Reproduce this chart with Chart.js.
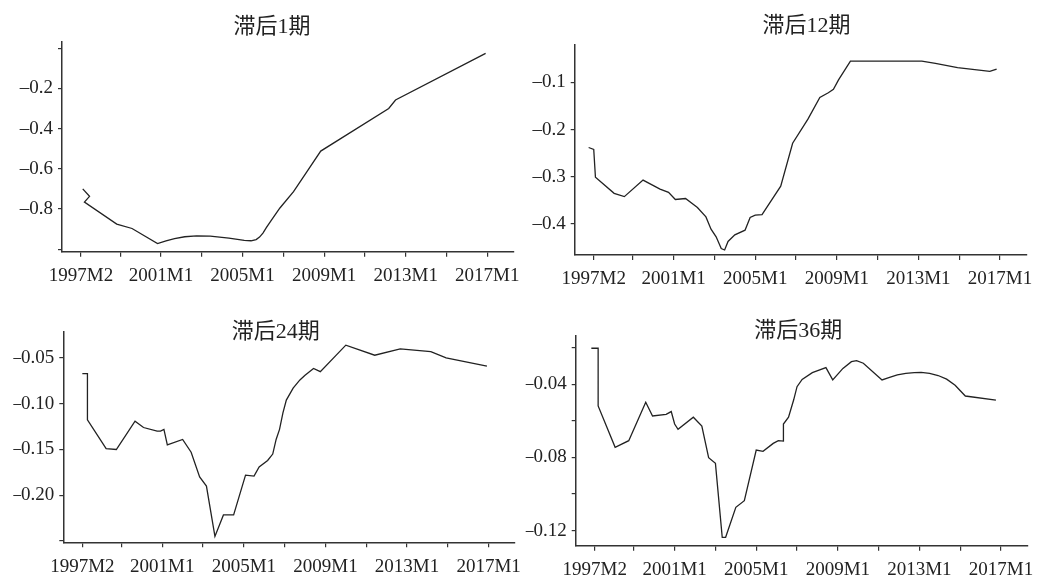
<!DOCTYPE html>
<html>
<head>
<meta charset="utf-8">
<script src="https://cdn.jsdelivr.net/npm/chart.js@4/dist/chart.umd.min.js"></script>
<style>
  html, body { margin: 0; padding: 0; background: #fff; }
  #wrap { position: relative; width: 1044px; height: 578px; overflow: hidden; background: #fff; }
  #wrap canvas { position: absolute; left: 0; top: 0; }
</style>
</head>
<body>
<div id="wrap">
  <canvas id="lag1" width="1044" height="578"></canvas>
  <canvas id="lag12" width="1044" height="578"></canvas>
  <canvas id="lag24" width="1044" height="578"></canvas>
  <canvas id="lag36" width="1044" height="578"></canvas>
</div>
<script>
// ---- tick labels (monthly dates, EViews style) ----
const xTickLabels = ['1997M2', '2001M1', '2005M1', '2009M1', '2013M1', '2017M1'];
const xMinorTicks = ['1999M1', '2003M1', '2007M1', '2011M1', '2015M1'];

// ---- panel titles ----
const panelTitles = ['滞后1期', '滞后12期', '滞后24期', '滞后36期'];

// ---- lag 1 ----
const lag1Dates = ['1997M3','1997M7','1997M4','1998M11','1999M8','2000M11','2001M4','2001M9','2002M3','2002M10',
  '2003M6','2004M5','2005M2','2005M6','2005M9','2005M11','2006M1','2006M3','2006M6','2006M11',
  '2007M7','2008M3','2008M11','2012M3','2012M7','2016M12'];
const lag1Values = [-0.700,-0.737,-0.766,-0.875,-0.897,-0.972,-0.958,-0.947,-0.938,-0.934,
  -0.935,-0.945,-0.956,-0.958,-0.952,-0.940,-0.920,-0.893,-0.855,-0.795,
  -0.714,-0.613,-0.512,-0.300,-0.258,-0.026];
const lag1YTicks = [0, -0.2, -0.4, -0.6, -0.8, -1.0];
const lag1YLabeled = [-0.2, -0.4, -0.6, -0.8];

// ---- lag 12 ----
const lag12Dates = ['1996M11','1997M2','1997M3','1998M2','1998M8','1999M7','2000M5','2000M10','2001M2','2001M8',
  '2002M3','2002M8','2002M11','2003M2','2003M5','2003M7','2003M9','2004M1','2004M7','2004M10',
  '2005M1','2005M5','2006M4','2006M11','2007M8','2008M3','2008M8','2008M11','2009M2','2009M9',
  '2013M3','2013M11','2014M12','2016M7','2016M11'];
const lag12Values = [-0.238,-0.242,-0.301,-0.335,-0.342,-0.307,-0.326,-0.333,-0.348,-0.346,
  -0.365,-0.385,-0.411,-0.427,-0.452,-0.455,-0.437,-0.423,-0.413,-0.386,
  -0.381,-0.380,-0.320,-0.229,-0.178,-0.132,-0.122,-0.115,-0.095,-0.055,
  -0.055,-0.060,-0.069,-0.077,-0.072];
const lag12YTicks = [-0.1, -0.2, -0.3, -0.4];
const lag12YLabeled = [-0.1, -0.2, -0.3, -0.4];

// ---- lag 24 ----
const lag24Dates = ['1997M2','1997M5','1997M5','1998M4','1998M10','1999M9','2000M2','2000M10','2000M12','2001M2',
  '2001M4','2002M1','2002M6','2002M11','2003M3','2003M8','2004M1','2004M7','2005M2','2005M7',
  '2005M10','2006M3','2006M6','2006M8','2006M10','2006M12','2007M2','2007M6','2007M10','2008M1',
  '2008M6','2008M10','2010M1','2011M6','2012M9','2014M3','2014M12','2016M12'];
const lag24Values = [-0.067,-0.067,-0.1175,-0.149,-0.150,-0.119,-0.126,-0.130,-0.130,-0.128,
  -0.145,-0.139,-0.153,-0.180,-0.190,-0.245,-0.2215,-0.2215,-0.178,-0.179,
  -0.169,-0.162,-0.155,-0.139,-0.128,-0.110,-0.096,-0.083,-0.074,-0.069,
  -0.0615,-0.065,-0.036,-0.047,-0.040,-0.043,-0.050,-0.059];
const lag24YTicks = [-0.05, -0.10, -0.15, -0.20, -0.25];
const lag24YLabeled = [-0.05, -0.10, -0.15, -0.20];

// ---- lag 36 ----
const lag36Dates = ['1996M12','1997M4','1997M4','1998M2','1998M10','1999M8','1999M12','2000M8','2000M11','2001M1',
  '2001M3','2001M12','2002M5','2002M9','2003M1','2003M5','2003M7','2004M1','2004M6','2005M1',
  '2005M5','2005M11','2006M2','2006M5','2006M5','2006M8','2006M11','2007M1','2007M4','2007M10',
  '2008M6','2008M10','2009M4','2009M9','2009M12','2010M4','2011M3','2011M7','2011M12','2012M5',
  '2012M10','2013M2','2013M7','2013M12','2014M5','2014M10','2015M4','2016M10'];
const lag36Values = [-0.0203,-0.0203,-0.0518,-0.0744,-0.0708,-0.0498,-0.0573,-0.0564,-0.0549,-0.0617,
  -0.0646,-0.0580,-0.0628,-0.0801,-0.0832,-0.1236,-0.1236,-0.1072,-0.1036,-0.0759,
  -0.0766,-0.0723,-0.0708,-0.0710,-0.0617,-0.0580,-0.0486,-0.0413,-0.0373,-0.0336,
  -0.0309,-0.0376,-0.0313,-0.0276,-0.0271,-0.0285,-0.0376,-0.0364,-0.0349,-0.0340,
  -0.0336,-0.0335,-0.0340,-0.0352,-0.0372,-0.0405,-0.0464,-0.0486];
const lag36YTicks = [-0.02, -0.04, -0.06, -0.08, -0.10, -0.12];
const lag36YLabeled = [-0.04, -0.08, -0.12];

// months counted from 1997M1 (so 1997M2 -> 1)
function monthIndex(s) {
  const parts = s.split('M');
  return (Number(parts[0]) - 1997) * 12 + (Number(parts[1]) - 1);
}

const INK = '#222222';
const AXIS = '#333333';
const SERIF = "'Liberation Serif', 'Times New Roman', serif";
const Y_AXIS_W = 50;
const X_AXIS_H = 30;
const X_MIN = -10.2;
const X_MAX = 255.4;

// draws the panel heading as canvas text
const panelTitlePlugin = {
  id: 'panelTitle',
  afterDraw(chart, args, opts) {
    const ctx = chart.ctx;
    ctx.save();
    ctx.font = opts.font;
    ctx.fillStyle = opts.color;
    ctx.textAlign = 'center';
    ctx.textBaseline = 'middle';
    ctx.fillText(opts.text, opts.x, opts.y);
    ctx.restore();
  }
};

const majorIdx = xTickLabels.map(monthIndex);
const minorIdx = xMinorTicks.map(monthIndex);
const allXTicks = majorIdx.concat(minorIdx).sort((a, b) => a - b);

function makePanel(id, cfg) {
  const points = cfg.dates.map((d, i) => ({ x: monthIndex(d), y: cfg.values[i] }));
  const a = cfg.area;
  return new Chart(document.getElementById(id), {
    type: 'line',
    data: {
      datasets: [{
        data: points,
        borderColor: INK,
        borderWidth: 1.3,
        pointRadius: 0,
        tension: 0,
        fill: false
      }]
    },
    plugins: [panelTitlePlugin],
    options: {
      responsive: false,
      animation: false,
      events: [],
      layout: {
        padding: { left: a.L - Y_AXIS_W, top: a.T, right: 1044 - a.R, bottom: 578 - a.B - X_AXIS_H }
      },
      plugins: {
        legend: { display: false },
        tooltip: { enabled: false },
        title: { display: false },
        panelTitle: {
          text: cfg.title, x: cfg.titleX, y: cfg.titleY,
          font: "22px 'Liberation Serif', 'Noto Sans CJK SC', serif", color: INK
        }
      },
      scales: {
        x: {
          type: 'linear',
          min: X_MIN,
          max: X_MAX,
          afterFit(scale) { scale.height = X_AXIS_H; },
          afterBuildTicks(scale) { scale.ticks = allXTicks.map(v => ({ value: v })); },
          border: { display: true, color: AXIS, width: 1.5 },
          grid: { display: true, drawOnChartArea: false, drawTicks: true, tickLength: 5, color: AXIS, lineWidth: 1.2 },
          ticks: {
            autoSkip: false, maxRotation: 0, minRotation: 0, padding: 8,
            color: INK, font: { family: SERIF, size: 19 },
            callback(v) { const k = majorIdx.indexOf(v); return k >= 0 ? xTickLabels[k] : ''; }
          }
        },
        y: {
          type: 'linear',
          min: cfg.yMin,
          max: cfg.yMax,
          afterFit(scale) { scale.width = Y_AXIS_W; },
          afterBuildTicks(scale) { scale.ticks = cfg.yTicks.map(v => ({ value: v })); },
          border: { display: true, color: AXIS, width: 1.5 },
          grid: { display: true, drawOnChartArea: false, drawTicks: true, tickLength: 4, color: AXIS, lineWidth: 1.2 },
          ticks: {
            padding: 5, color: INK, font: { family: SERIF, size: 19 },
            callback(v) {
              const hit = cfg.yLabeled.some(t => Math.abs(t - v) < 1e-9);
              return hit ? '\u2013' + Math.abs(v).toFixed(cfg.decimals) : '';
            }
          }
        }
      }
    }
  });
}

makePanel('lag1', {
  dates: lag1Dates, values: lag1Values, yTicks: lag1YTicks, yLabeled: lag1YLabeled, decimals: 1,
  title: panelTitles[0], titleX: 272, titleY: 27,
  area: { L: 62, T: 41.7, R: 513.5, B: 251.7 },
  yMin: -1.0124, yMax: 0.032
});
makePanel('lag12', {
  dates: lag12Dates, values: lag12Values, yTicks: lag12YTicks, yLabeled: lag12YLabeled, decimals: 1,
  title: panelTitles[1], titleX: 806.5, titleY: 26.5,
  area: { L: 574.7, T: 45, R: 1026.2, B: 255 },
  yMin: -0.4656, yMax: -0.021
});
makePanel('lag24', {
  dates: lag24Dates, values: lag24Values, yTicks: lag24YTicks, yLabeled: lag24YLabeled, decimals: 2,
  title: panelTitles[2], titleX: 275.8, titleY: 332,
  area: { L: 63.3, T: 331.7, R: 514.8, B: 542.3 },
  yMin: -0.2514, yMax: -0.0213
});
makePanel('lag36', {
  dates: lag36Dates, values: lag36Values, yTicks: lag36YTicks, yLabeled: lag36YLabeled, decimals: 2,
  title: panelTitles[3], titleX: 798.2, titleY: 331.5,
  area: { L: 575.7, T: 336, R: 1027.2, B: 545.7 },
  yMin: -0.1282, yMax: -0.0136
});
</script>
</body>
</html>
